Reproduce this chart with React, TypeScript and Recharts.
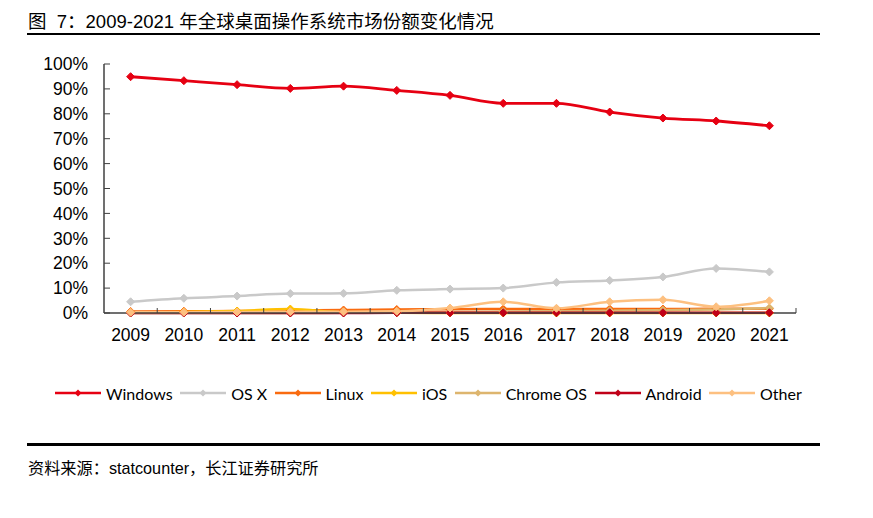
import { Line, LineChart, XAxis, YAxis } from 'recharts'

const years = ['2009', '2010', '2011', '2012', '2013', '2014', '2015', '2016', '2017', '2018', '2019', '2020', '2021']
const windows = [94.9, 93.3, 91.7, 90.2, 91.1, 89.4, 87.4, 84.2, 84.2, 80.7, 78.3, 77.1, 75.2]
const osx = [4.5, 5.9, 6.8, 7.8, 7.9, 9.1, 9.6, 10.0, 12.3, 13.1, 14.5, 17.9, 16.5]
const linux = [0.6, 0.7, 0.8, 1.0, 1.2, 1.4, 1.5, 1.6, 1.6, 1.6, 1.6, 1.7, 1.7]
const ios = [0.2, 0.4, 0.8, 1.6, 0.3, 0.1, 0, 0, 0, 0, 0, 0, 0]
const chromeOs = [0, 0, 0, 0, 0.1, 0.2, 0.4, 0.6, 0.7, 0.9, 1.1, 1.4, 2.0]
const android = [0, 0, 0, 0, 0, 0.1, 0.1, 0.1, 0.1, 0.1, 0.1, 0.1, 0.1]
const other = [0.3, 0.3, 0.4, 0.5, 0.5, 0.7, 2.0, 4.5, 1.9, 4.5, 5.3, 2.5, 4.9]
const yTicks = [0, 10, 20, 30, 40, 50, 60, 70, 80, 90, 100]

const series = [
  { key: 'Windows', values: windows, color: '#E60012' },
  { key: 'OS X', values: osx, color: '#C9C9C9' },
  { key: 'Linux', values: linux, color: '#F96B10' },
  { key: 'iOS', values: ios, color: '#FFC000' },
  { key: 'Chrome OS', values: chromeOs, color: '#DDB56E' },
  { key: 'Android', values: android, color: '#C00018' },
  { key: 'Other', values: other, color: '#FDC080' },
]

const data = years.map((year, i) => {
  const row: Record<string, string | number> = { year }
  series.forEach((s) => {
    row[s.key] = s.values[i]
  })
  return row
})

const FONT = '"Liberation Sans", Arial, "Noto Sans CJK SC", sans-serif'
const AXIS = '#404040'
// plot spans 104..796, 13 categories -> half a band on each side
const HALF_BAND = 692 / 13 / 2
const LABEL_GAP = 16

function diamond(color: string, r: number) {
  return (props: any) => {
    const { cx, cy, index } = props
    if (cx == null || cy == null) return <g key={index} />
    return (
      <path
        key={index}
        d={`M${cx},${cy - r}L${cx + r},${cy}L${cx},${cy + r}L${cx - r},${cy}Z`}
        fill={color}
        stroke={color}
        strokeWidth={1}
      />
    )
  }
}

// year label plus the Excel-style tick marks that sit between categories
function YearTick(props: any) {
  const { x, y, payload, index } = props
  const axisY = y - LABEL_GAP
  const last = index === years.length - 1
  return (
    <g>
      {index > 0 && (
        <line x1={x - HALF_BAND} x2={x - HALF_BAND} y1={axisY} y2={axisY - 5} stroke={AXIS} />
      )}
      {last && <line x1={x + HALF_BAND} x2={x + HALF_BAND} y1={axisY} y2={axisY - 5} stroke={AXIS} />}
      <text x={x} y={y} dy="0.71em" textAnchor="middle" fontSize={17.5} fill="#000" fontFamily={FONT}>
        {payload.value}
      </text>
    </g>
  )
}

function LegendRow() {
  return (
    <div
      style={{
        position: 'absolute',
        left: 55,
        top: 383,
        display: 'flex',
        alignItems: 'center',
        fontFamily: 'Lato, "Liberation Sans", sans-serif',
        fontSize: 16,
        color: '#000',
        whiteSpace: 'nowrap',
      }}
    >
      {series.map((s) => (
        <div key={s.key} style={{ display: 'flex', alignItems: 'center', marginRight: 7.5 }}>
          <svg width={46} height={20} style={{ display: 'block' }}>
            <line x1={0} y1={10} x2={46} y2={10} stroke={s.color} strokeWidth={2.5} />
            <path d="M23,6.5L26.5,10L23,13.5L19.5,10Z" fill={s.color} />
          </svg>
          <span style={{ marginLeft: 5 }}>{s.key}</span>
        </div>
      ))}
    </div>
  )
}

export default function App() {
  return (
    <div
      style={{
        position: 'absolute',
        left: 0,
        top: 0,
        width: 873,
        height: 518,
        background: '#fff',
        fontFamily: FONT,
      }}
    >
      <div
        style={{
          position: 'absolute',
          left: 28,
          top: 10,
          fontSize: 18.5,
          lineHeight: '23px',
          color: '#000',
          whiteSpace: 'nowrap',
        }}
      >
        图&nbsp;&nbsp;7：2009-2021 年全球桌面操作系统市场份额变化情况
      </div>
      <div style={{ position: 'absolute', left: 27, top: 33, width: 793, height: 2, background: '#000' }} />

      <div style={{ position: 'absolute', left: 0, top: 0 }}>
        <LineChart width={873} height={360} data={data} margin={{ top: 64, right: 77, bottom: 17, left: 44 }}>
          <XAxis
            dataKey="year"
            height={30}
            padding={{ left: HALF_BAND, right: HALF_BAND }}
            tickLine={false}
            tickSize={0}
            tickMargin={LABEL_GAP}
            axisLine={{ stroke: AXIS, strokeWidth: 1.5 }}
            tick={<YearTick />}
            interval={0}
          />
          <YAxis
            type="number"
            domain={[0, 100]}
            ticks={yTicks}
            width={60}
            tickFormatter={(v) => `${v}%`}
            tickSize={-6}
            tickMargin={22}
            axisLine={{ stroke: AXIS, strokeWidth: 1.5 }}
            tickLine={{ stroke: AXIS }}
            tick={{ fontSize: 17.5, fill: '#000', fontFamily: FONT }}
            interval={0}
          />
          {series.map((s) => (
            <Line
              key={s.key}
              type="monotone"
              dataKey={s.key}
              stroke={s.color}
              strokeWidth={s.key === 'Windows' ? 2.8 : 2.5}
              dot={diamond(s.color, 4)}
              activeDot={false}
              isAnimationActive={false}
            />
          ))}
        </LineChart>
      </div>

      <LegendRow />

      <div style={{ position: 'absolute', left: 27, top: 443, width: 793, height: 2.5, background: '#000' }} />
      <div
        style={{
          position: 'absolute',
          left: 28,
          top: 458,
          fontSize: 16.2,
          lineHeight: '20px',
          color: '#000',
          whiteSpace: 'nowrap',
        }}
      >
        资料来源：statcounter，长江证券研究所
      </div>
    </div>
  )
}
